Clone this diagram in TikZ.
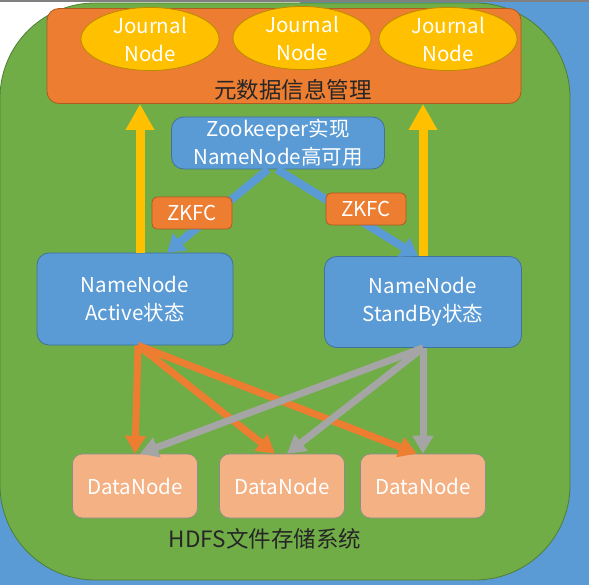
\documentclass[tikz,border=0pt]{standalone}
\usepackage{fontspec}
\setmainfont{Noto Sans CJK SC}
\usetikzlibrary{shapes.geometric,arrows.meta}
\definecolor{hdfsgreen}{HTML}{70AD47}
\definecolor{hdfsline}{HTML}{507E32}
\definecolor{nnblue}{HTML}{5B9BD5}
\definecolor{nnline}{HTML}{41719C}
\definecolor{metaorange}{HTML}{ED7D31}
\definecolor{metaline}{HTML}{AE5A21}
\definecolor{jnyellow}{HTML}{FFC000}
\definecolor{jnline}{HTML}{BC8C00}
\definecolor{dnpeach}{HTML}{F4B183}
\definecolor{dnline}{HTML}{8C8C8C}
\definecolor{sbgray}{HTML}{A5A5A5}
\definecolor{captext}{HTML}{262626}
\begin{document}
\begin{tikzpicture}[x=1pt,y=-1pt,
	boxtext/.style={text=white,align=center,font=\fontsize{20.5}{28}\selectfont},
	nnbox/.style={boxtext,rounded corners=12pt,draw=nnline,fill=nnblue,line width=0.8pt,inner sep=0pt},
	jnode/.style={boxtext,ellipse,draw=jnline,fill=jnyellow,line width=0.8pt,minimum width=138pt,minimum height=59pt,inner sep=0pt},
	zkfcbox/.style={boxtext,rounded corners=5pt,draw=metaline,fill=metaorange,line width=0.8pt,minimum width=80pt,minimum height=32pt,inner sep=0pt},
	dnbox/.style={boxtext,rounded corners=10pt,draw=dnline,fill=dnpeach,line width=0.6pt,minimum width=125pt,minimum height=64pt,inner sep=0pt},
	caption/.style={text=captext,font=\fontsize{22.5}{26}\selectfont},
	jnarrow/.style={draw=jnyellow,line width=9pt,-{Triangle[width=27pt,length=26pt]}},
	zkarrow/.style={draw=nnblue,line width=8pt,-{Triangle[width=21pt,length=17pt]}},
	activearrow/.style={draw=metaorange,line width=7pt,-{Triangle[width=20pt,length=18pt]}},
	standbyarrow/.style={draw=sbgray,line width=7pt,-{Triangle[width=20pt,length=18pt]}}]

	\useasboundingbox (0,0) rectangle (589,585);
	% background
	\fill[nnblue] (0,0) rectangle (589,585);
	\fill[white] (0,0) rectangle (300,300);
	\draw[gray,line width=1.5pt] (0,1) -- (589,1);
	\draw[hdfsline,fill=hdfsgreen,line width=0.8pt,rounded corners=95pt] (0,3) rectangle (570,580);

	% metadata layer
	\node[rounded corners=12pt,draw=metaline,fill=metaorange,line width=0.8pt,minimum width=474pt,minimum height=95pt] (meta) at (284,56) {};
	\node[jnode] (jn1) at (150,39) {Journal\\Node};
	\node[jnode] (jn2) at (302,38) {Journal\\Node};
	\node[jnode] (jn3) at (448,39) {Journal\\Node};
	\node[caption] (metalabel) at (293,90) {元数据信息管理};

	% namenodes
	\node[nnbox,minimum width=213pt,minimum height=52pt] (zk) at (278,143) {Zookeeper实现\\NameNode高可用};
	\node[nnbox,minimum width=196pt,minimum height=92pt] (act) at (135,299) {NameNode\\Active状态};
	\node[nnbox,minimum width=197pt,minimum height=91pt] (stb) at (423,302) {NameNode\\StandBy状态};

	% datanodes
	\node[dnbox] (dn1) at (135,486) {DataNode};
	\node[dnbox] (dn2) at (282,486) {DataNode};
	\node[dnbox] (dn3) at (423,486) {DataNode};
	\node[caption] (hdfslabel) at (265,539) {HDFS文件存储系统};

	\draw[zkarrow] ([xshift=-10pt]zk.south) -- ([xshift=32pt]act.north);
	\draw[zkarrow] ([xshift=-1pt]zk.south) -- ([xshift=-5pt]stb.north);
	\node[zkfcbox] (zkfc1) at (192,213) {ZKFC};
	\node[zkfcbox] (zkfc2) at (366,209) {ZKFC};

	\draw[jnarrow] ([xshift=5pt]act.north) -- ([xshift=5pt]act.north |- meta.south);
	\draw[jnarrow] (stb.north) -- (stb.north |- meta.south);

	% active -> datanodes, then standby -> datanodes
	\draw[activearrow] ([xshift=3pt]act.south) -- (dn1.north);
	\draw[activearrow] ([xshift=3pt]act.south) -- ([xshift=-7pt]dn2.north);
	\draw[activearrow] ([xshift=3pt]act.south) -- ([xshift=-6pt]dn3.north);
	\draw[standbyarrow] (stb.south) -- ([xshift=5pt]dn1.north);
	\draw[standbyarrow] (stb.south) -- ([xshift=5pt]dn2.north);
	\draw[standbyarrow] (stb.south) -- (dn3.north);

\end{tikzpicture}
\end{document}
